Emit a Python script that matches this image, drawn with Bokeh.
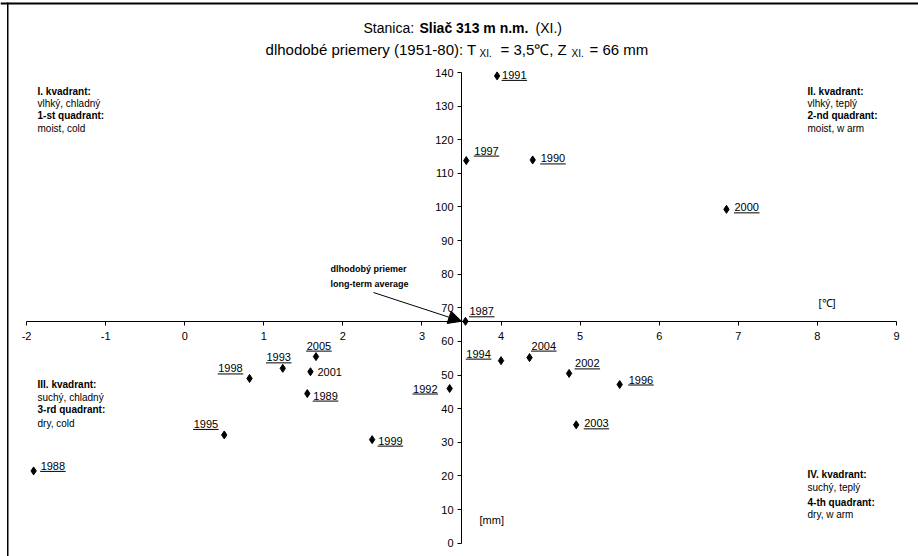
from bokeh.plotting import figure
from bokeh.models import (Range1d, FixedTicker, Label, Arrow, NormalHead,
                          BoxAnnotation, ColumnDataSource)
from bokeh.embed import file_html
from bokeh.resources import INLINE
from bokeh.core.properties import value

# November: mean temperature [°C] and precipitation total [mm] per year
years = [1987, 1988, 1989, 1990, 1991, 1992, 1993, 1994, 1995, 1996,
         1997, 1998, 1999, 2000, 2001, 2002, 2003, 2004, 2005]
temp = [3.55, -1.91, 1.55, 4.40, 3.95, 3.35, 1.24, 4.00, 0.50, 5.50,
        3.56, 0.82, 2.37, 6.85, 1.59, 4.86, 4.95, 4.36, 1.66]
precip = [66.0, 21.5, 44.5, 114.0, 139.0, 46.0, 52.0, 54.3, 32.2, 47.2,
          113.8, 49.0, 30.8, 99.3, 51.0, 50.5, 35.2, 55.2, 55.5]

# long-term (1951-80) averages, where the axes cross
T_MEAN = 3.5
Z_MEAN = 66

X_TICKS = list(range(-2, 10))
Y_TICKS = list(range(0, 141, 10))

FONT = "Liberation Sans"
W, H = 918, 556
X_LO, X_HI = -2.329, 9.278
Y_LO, Y_HI = -3.96, 161.42
PX_X = W / (X_HI - X_LO)
PX_Y = H / (Y_HI - Y_LO)


def sx(px):
    return X_LO + px / PX_X


def sy(py):
    return Y_HI - py / PX_Y


# where each year label sits relative to its marker (pixels), underlined or not
label_style = {
    1987: (4, -10, True), 1988: (7, -5, True), 1989: (6, 2, True),
    1990: (8, -1.5, True), 1991: (5, -1, True), 1992: (-36.6, 0, True),
    1993: (-16.3, -11, True), 1994: (-34.7, -7, True), 1995: (-30.6, -11, True),
    1996: (9, -5, True), 1997: (8, -10, True), 1998: (-31.3, -10, True),
    1999: (6, 1, True), 2000: (8, -2, True), 2001: (7, 0, False),
    2002: (6, -10, True), 2003: (8, -1.5, True), 2004: (2, -12, True),
    2005: (-9.3, -11, True),
}

p = figure(width=W, height=H, x_range=Range1d(X_LO, X_HI),
           y_range=Range1d(Y_LO, Y_HI), output_backend="svg",
           toolbar_location=None, min_border=0, title=None)
p.background_fill_color = "white"
p.border_fill_color = "white"
p.outline_line_color = None
p.xgrid.visible = False
p.ygrid.visible = False

# axes crossing at the long-term average
xa = p.xaxis[0]
xa.fixed_location = Z_MEAN
xa.bounds = (X_TICKS[0], X_TICKS[-1])
xa.ticker = FixedTicker(ticks=X_TICKS)
xa.major_label_overrides = {t: str(t) for t in X_TICKS}
xa.major_label_standoff = 7

ya = p.yaxis[0]
ya.fixed_location = T_MEAN
ya.bounds = (Y_TICKS[0], Y_TICKS[-1])
ya.ticker = FixedTicker(ticks=Y_TICKS)
ya.major_label_standoff = 4

for ax in (xa, ya):
    ax.axis_line_color = "black"
    ax.axis_line_width = 1
    ax.major_tick_line_color = "black"
    ax.major_tick_out = 4
    ax.major_tick_in = 0
    ax.minor_tick_line_color = None
    ax.major_label_text_font = FONT
    ax.major_label_text_font_size = "11px"
    ax.major_label_text_color = "black"

# markers
p.scatter(temp, precip, marker="diamond", size=8, color="black")

# year labels with underlines
dxs = [label_style[y][0] for y in years]
dys = [label_style[y][1] for y in years]
src = ColumnDataSource(dict(x=temp, y=precip, t=[str(y) for y in years],
                            dx=dxs, dy=dys))
p.text(x="x", y="y", text="t", x_offset="dx", y_offset="dy", source=src,
       text_align="left", text_baseline="middle", text_font=value(FONT),
       text_font_size="11px", text_color="black")

ux0, ux1, uy = [], [], []
for yr, t, z in zip(years, temp, precip):
    dx, dy, under = label_style[yr]
    if under:
        ux0.append(t + (dx - 0.5) / PX_X)
        ux1.append(t + (dx + 25) / PX_X)
        uy.append(z - (dy + 5.5) / PX_Y)
p.segment(x0=ux0, y0=uy, x1=ux1, y1=uy, line_color="black", line_width=1)


def put(text, px, py, size="10px", style="normal", align="left"):
    p.add_layout(Label(x=sx(px), y=sy(py), text=text, text_font=FONT,
                       text_font_size=size, text_font_style=style,
                       text_align=align, text_baseline="middle",
                       text_color="black"))


# title
put("Stanica:", 363, 27, "14px")
put("Sliač 313 m n.m.", 419, 27, "14px", "bold")
put("(XI.)", 535, 27, "14px")
put("dlhodobé priemery (1951-80): T", 476, 49, "15px", align="right")
put("XI.", 479, 53, "10px")
put("= 3,5℃, Z", 500, 49, "15px")
put("XI.", 571, 53, "10px")
put("= 66 mm", 589, 49, "15px")

# quadrant notes
quads = [
    (37, [91, 103, 115, 128], ["I. kvadrant:", "vlhký, chladný", "1-st quadrant:", "moist, cold"]),
    (807, [91, 103, 115, 128], ["II. kvadrant:", "vlhký, teplý", "2-nd quadrant:", "moist, w arm"]),
    (37, [384, 397, 409, 423], ["III. kvadrant:", "suchý, chladný", "3-rd quadrant:", "dry, cold"]),
    (807, [474, 487, 502, 514], ["IV. kvadrant:", "suchý, teplý", "4-th quadrant:", "dry, w arm"]),
]
for qx, qys, lines in quads:
    for i, (qy, line) in enumerate(zip(qys, lines)):
        put(line, qx, qy, "10px", "bold" if i % 2 == 0 else "normal")

# long-term average pointer
put("dlhodobý priemer", 330, 268, "9px", "bold")
put("long-term average", 330, 283, "9px", "bold")
p.add_layout(Arrow(end=NormalHead(size=13, fill_color="black", line_color="black"),
                   x_start=sx(373), y_start=sy(292), x_end=T_MEAN, y_end=Z_MEAN,
                   line_color="black", line_width=1))

# unit labels
put("[℃]", 818, 302, "11px")
put("[mm]", 479, 519, "11px")

# sheet border (top and left edges)
p.add_layout(BoxAnnotation(left=sx(0), right=sx(W), top=sy(2), bottom=sy(4),
                           fill_color="black", fill_alpha=1, line_color=None))
p.add_layout(BoxAnnotation(left=sx(6.5), right=sx(8), top=sy(2), bottom=sy(H),
                           fill_color="black", fill_alpha=1, line_color=None))

open("out.html", "w").write(file_html(p, INLINE))
